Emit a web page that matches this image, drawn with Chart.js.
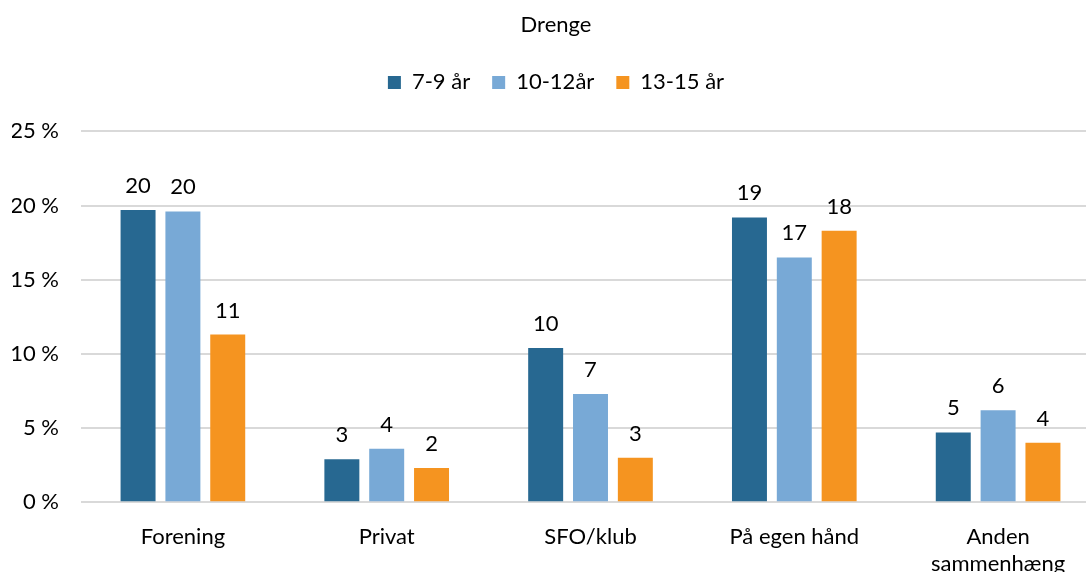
<!DOCTYPE html>
<html lang="da">
<head>
    <meta charset="UTF-8">
    <title>Drenge</title>
    <script src="https://cdn.jsdelivr.net/npm/chart.js"></script>
    <style>
        body {
            margin: 0;
            background: #ffffff;
            overflow: hidden;
        }
        .wrap {
            width: 1100px;
            height: 591px;
        }
    </style>
</head>
<body>
    <div class="wrap">
        <canvas id="chart"></canvas>
    </div>

    <script>
        // Andel drenge pr. aldersgruppe (%)
        const categories = ["Forening", "Privat", "SFO/klub", "På egen hånd", ["Anden", "sammenhæng"]];
        const seriesNames = ["7-9 år", "10-12år", "13-15 år"];
        const age7to9 = [19.7, 2.9, 10.4, 19.2, 4.7];
        const age10to12 = [19.6, 3.6, 7.3, 16.5, 6.2];
        const age13to15 = [11.3, 2.3, 3.0, 18.3, 4.0];
        const yTicks = [0, 5, 10, 15, 20, 25];

        const colors = ["#276891", "#78a9d6", "#f59420"];
        const font = "Lato, 'Open Sans', sans-serif";

        // tegner de afrundede tal over søjlerne
        const valueLabels = {
            id: "valueLabels",
            afterDatasetsDraw(chart) {
                const ctx = chart.ctx;
                ctx.save();
                ctx.font = "22px " + font;
                ctx.fillStyle = "#000000";
                ctx.textAlign = "center";
                ctx.textBaseline = "alphabetic";
                chart.data.datasets.forEach((ds, i) => {
                    chart.getDatasetMeta(i).data.forEach((bar, j) => {
                        ctx.fillText(Math.round(ds.data[j]), bar.x, bar.y - 17);
                    });
                });
                ctx.restore();
            }
        };

        // ekstra luft under legenden
        const legendGap = {
            id: "legendGap",
            beforeInit(chart) {
                const fit = chart.legend.fit;
                chart.legend.fit = function () {
                    fit.call(this);
                    this.height += 28;
                };
            }
        };

        new Chart(document.getElementById("chart"), {
            type: "bar",
            data: {
                labels: categories,
                datasets: [age7to9, age10to12, age13to15].map((d, i) => ({
                    label: seriesNames[i],
                    data: d,
                    backgroundColor: colors[i],
                    barPercentage: 0.78,
                    categoryPercentage: 0.66
                }))
            },
            options: {
                responsive: true,
                maintainAspectRatio: false,
                animation: false,
                layout: { padding: { left: 12, right: 0, top: 0, bottom: 0 } },
                plugins: {
                    title: {
                        display: true,
                        text: "Drenge",
                        color: "#000000",
                        font: { family: font, size: 22, weight: "normal" },
                        padding: { top: 12, bottom: 11 }
                    },
                    legend: {
                        labels: {
                            color: "#000000",
                            font: { family: font, size: 22 },
                            boxWidth: 13,
                            boxHeight: 13,
                            padding: 22
                        }
                    },
                    tooltip: { enabled: false }
                },
                scales: {
                    x: {
                        grid: { display: false },
                        border: { display: false },
                        ticks: {
                            color: "#000000",
                            font: { family: font, size: 22 },
                            padding: 14,
                            maxRotation: 0
                        }
                    },
                    y: {
                        min: 0,
                        max: 25,
                        afterBuildTicks: axis => {
                            axis.ticks = yTicks.map(v => ({ value: v }));
                        },
                        afterFit: axis => {
                            axis.width = 69;
                        },
                        grid: { color: "#d9d9d9", lineWidth: 2, drawTicks: false },
                        border: { display: false },
                        ticks: {
                            color: "#000000",
                            font: { family: font, size: 22 },
                            padding: 22,
                            callback: v => v + " %"
                        }
                    }
                }
            },
            plugins: [valueLabels, legendGap]
        });
    </script>
</body>
</html>
